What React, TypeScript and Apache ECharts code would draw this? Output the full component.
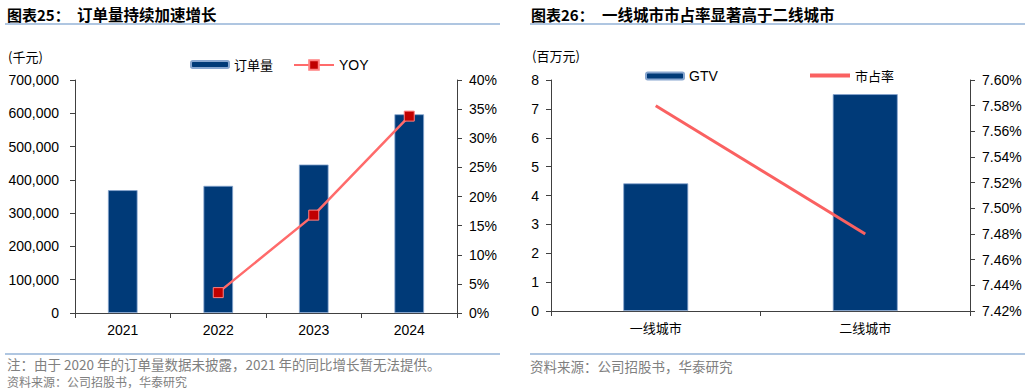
import React, { useEffect, useRef } from "react";
import * as echarts from "echarts";

// ---- Data: chart 25 ----
const years = ["2021", "2022", "2023", "2024"];
const orderVolume = [369000, 382000, 446000, 597000]; // 千元
const orderYoy: (number | null)[] = [null, 3.5, 16.8, 33.8]; // %

// ---- Data: chart 26 ----
const cities = ["一线城市", "二线城市"];
const gtv = [4.42, 7.51]; // 百万元
const marketShare = [7.58, 7.48]; // %

const FONT = '"Liberation Sans", Arial, "Noto Sans CJK SC", sans-serif';
const CJK = '"Noto Sans CJK SC", "Liberation Sans", sans-serif';
const AXIS_COLOR = "#404040";
const BAR_COLOR = "#003A78";
const LINE_COLOR = "#FF6B6B";

export default function App() {
  const ref = useRef<HTMLDivElement>(null);

  useEffect(() => {
    if (!ref.current) return;
    const chart = echarts.init(ref.current, undefined, { renderer: "svg" });

    const axisLine = { show: true, lineStyle: { color: AXIS_COLOR, width: 1 } };
    const axisTick = { show: true, length: 5, lineStyle: { color: AXIS_COLOR, width: 1 } };
    const label = (margin: number, extra: any = {}) => ({
      color: "#000",
      fontSize: 14,
      fontFamily: FONT,
      margin,
      ...extra,
    });

    const option: any = {
      animation: false,
      backgroundColor: "#fff",
      grid: [
        { left: 75, right: 573, top: 80, bottom: 76, containLabel: false },
        { left: 551, right: 60, top: 80, bottom: 78, containLabel: false },
      ],
      xAxis: [
        {
          type: "category",
          gridIndex: 0,
          data: years,
          axisLine,
          axisTick,
          axisLabel: label(10, { fontSize: 14 }),
          splitLine: { show: false },
        },
        {
          type: "category",
          gridIndex: 1,
          data: cities,
          axisLine,
          axisTick,
          axisLabel: label(10, { fontSize: 13, fontFamily: CJK }),
          splitLine: { show: false },
        },
      ],
      yAxis: [
        {
          type: "value",
          gridIndex: 0,
          min: 0,
          max: 700000,
          interval: 100000,
          axisLine,
          axisTick,
          axisLabel: label(16, {
            formatter: (v: number) => v.toLocaleString("en-US"),
          }),
          splitLine: { show: false },
        },
        {
          type: "value",
          gridIndex: 0,
          position: "right",
          min: 0,
          max: 40,
          interval: 5,
          axisLine,
          axisTick,
          axisLabel: label(12, { formatter: "{value}%" }),
          splitLine: { show: false },
        },
        {
          type: "value",
          gridIndex: 1,
          min: 0,
          max: 8,
          interval: 1,
          axisLine,
          axisTick,
          axisLabel: label(12),
          splitLine: { show: false },
        },
        {
          type: "value",
          gridIndex: 1,
          position: "right",
          min: 742,
          max: 760,
          interval: 2,
          axisLine,
          axisTick,
          axisLabel: label(12, {
            formatter: (v: number) => (v / 100).toFixed(2) + "%",
          }),
          splitLine: { show: false },
        },
      ],
      legend: [
        {
          data: ["订单量"],
          left: 190,
          top: 58,
          padding: 0,
          itemWidth: 38,
          itemHeight: 7,
          textStyle: { fontSize: 13, fontFamily: CJK, color: "#000" },
        },
        {
          data: ["YOY"],
          left: 293,
          top: 58,
          padding: 0,
          itemWidth: 40,
          itemHeight: 12,
          textStyle: { fontSize: 14, fontFamily: FONT, color: "#000" },
        },
        {
          data: ["GTV"],
          left: 645,
          top: 69,
          padding: 0,
          itemWidth: 38,
          itemHeight: 7,
          textStyle: { fontSize: 14, fontFamily: FONT, color: "#000" },
        },
        {
          data: [{ name: "市占率", icon: "rect" }],
          left: 810,
          top: 69,
          padding: 0,
          itemWidth: 40,
          itemHeight: 4,
          textStyle: { fontSize: 13, fontFamily: CJK, color: "#000" },
        },
      ],
      series: [
        {
          name: "订单量",
          type: "bar",
          xAxisIndex: 0,
          yAxisIndex: 0,
          data: orderVolume,
          barWidth: "31%",
          itemStyle: { color: BAR_COLOR, borderColor: "#88A6CF", borderWidth: 0.8 },
        },
        {
          name: "YOY",
          type: "line",
          xAxisIndex: 0,
          yAxisIndex: 1,
          data: orderYoy.map((v) => (v === null ? "-" : v)),
          symbol: "rect",
          symbolSize: 10,
          connectNulls: false,
          lineStyle: { color: LINE_COLOR, width: 2.5 },
          itemStyle: { color: "#C00000", borderColor: "#FF8080", borderWidth: 1 },
        },
        {
          name: "GTV",
          type: "bar",
          xAxisIndex: 1,
          yAxisIndex: 2,
          data: gtv,
          barWidth: "31%",
          itemStyle: { color: BAR_COLOR, borderColor: "#88A6CF", borderWidth: 0.8 },
        },
        {
          name: "市占率",
          type: "line",
          xAxisIndex: 1,
          yAxisIndex: 3,
          data: marketShare.map((v) => Math.round(v * 100 * 100) / 100),
          symbol: "none",
          lineStyle: { color: "#FA6161", width: 3 },
          itemStyle: { color: "#FA6161" },
        },
      ],
      graphic: [
        // Chart 25 titles and frame lines
        {
          type: "text",
          x: 7,
          y: 14,
          style: {
            text: "图表25：",
            fill: "#000",
            fontSize: 15,
            fontWeight: "bold",
            fontFamily: CJK,
            textVerticalAlign: "middle",
          },
        },
        {
          type: "text",
          x: 77,
          y: 14,
          style: {
            text: "订单量持续加速增长",
            fill: "#000",
            fontSize: 15.5,
            fontWeight: "bold",
            fontFamily: CJK,
            textVerticalAlign: "middle",
          },
        },
        {
          type: "line",
          shape: { x1: 5, y1: 24, x2: 500, y2: 24 },
          style: { stroke: "#95B3D7", lineWidth: 1.5 },
        },
        {
          type: "text",
          x: 8,
          y: 56,
          style: {
            text: "(千元)",
            fill: "#000",
            fontSize: 13,
            fontFamily: CJK,
            textVerticalAlign: "middle",
          },
        },
        {
          type: "line",
          shape: { x1: 5, y1: 354, x2: 500, y2: 354 },
          style: { stroke: "#95B3D7", lineWidth: 1.5 },
        },
        {
          type: "text",
          x: 7,
          y: 364,
          style: {
            text: "注：由于 2020 年的订单量数据未披露，2021 年的同比增长暂无法提供。",
            fill: "#808080",
            fontSize: 13.5,
            fontFamily: CJK,
            textVerticalAlign: "middle",
          },
        },
        {
          type: "text",
          x: 7,
          y: 381.5,
          style: {
            text: "资料来源：公司招股书，华泰研究",
            fill: "#808080",
            fontSize: 12,
            fontFamily: CJK,
            textVerticalAlign: "middle",
          },
        },
        // Chart 26 titles and frame lines
        {
          type: "text",
          x: 531,
          y: 14,
          style: {
            text: "图表26：",
            fill: "#000",
            fontSize: 15,
            fontWeight: "bold",
            fontFamily: CJK,
            textVerticalAlign: "middle",
          },
        },
        {
          type: "text",
          x: 602,
          y: 14,
          style: {
            text: "一线城市市占率显著高于二线城市",
            fill: "#000",
            fontSize: 15.5,
            fontWeight: "bold",
            fontFamily: CJK,
            textVerticalAlign: "middle",
          },
        },
        {
          type: "line",
          shape: { x1: 530, y1: 24, x2: 1025, y2: 24 },
          style: { stroke: "#95B3D7", lineWidth: 1.5 },
        },
        {
          type: "text",
          x: 532,
          y: 55,
          style: {
            text: "(百万元)",
            fill: "#000",
            fontSize: 13,
            fontFamily: CJK,
            textVerticalAlign: "middle",
          },
        },
        {
          type: "line",
          shape: { x1: 530, y1: 354, x2: 1025, y2: 354 },
          style: { stroke: "#95B3D7", lineWidth: 1.5 },
        },
        {
          type: "text",
          x: 530,
          y: 366,
          style: {
            text: "资料来源：公司招股书，华泰研究",
            fill: "#808080",
            fontSize: 13.5,
            fontFamily: CJK,
            textVerticalAlign: "middle",
          },
        },
      ],
    };

    chart.setOption(option);
    return () => chart.dispose();
  }, []);

  return (
    <div
      ref={ref}
      style={{ position: "absolute", left: 0, top: 0, width: 1030, height: 389 }}
    />
  );
}
